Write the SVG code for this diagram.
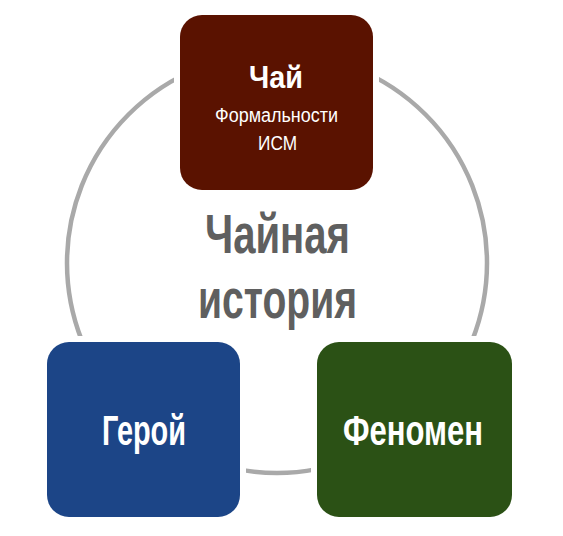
<svg xmlns="http://www.w3.org/2000/svg" width="563" height="536" viewBox="0 0 563 536">
<style>
.box{stroke:#ffffff;stroke-width:12;paint-order:stroke}
.t{font-family:"Liberation Sans Narrow","Liberation Sans",Arial,sans-serif;fill:#ffffff;text-anchor:middle}
.b{font-weight:bold}
.c{font-family:"Liberation Sans Narrow","Liberation Sans",Arial,sans-serif;fill:#5f5f5f;font-weight:bold;text-anchor:middle}
</style>
<rect width="563" height="536" fill="#ffffff"/>
<g id="connectors">
<circle cx="277" cy="263" r="210" fill="none" stroke="#a9a9a9" stroke-width="4.5"/>
</g>
<g id="center">
<text class="c" x="277.5" y="253" font-size="56" textLength="145" lengthAdjust="spacingAndGlyphs">Чайная</text>
<text class="c" x="277.5" y="318" font-size="56" textLength="159" lengthAdjust="spacingAndGlyphs">история</text>
</g>
<g id="node-tea">
<rect class="box" x="180" y="15" width="193" height="175" rx="22" fill="#5a1200"/>
<text class="t b" x="276" y="88" font-size="32" textLength="54" lengthAdjust="spacingAndGlyphs">Чай</text>
<text class="t" x="276.5" y="122" font-size="19.5" textLength="123" lengthAdjust="spacingAndGlyphs">Формальности</text>
<text class="t" x="277.5" y="150" font-size="19.5" textLength="39" lengthAdjust="spacingAndGlyphs">ИСМ</text>
</g>
<g id="node-hero">
<rect class="box" x="47" y="342" width="193" height="175" rx="22" fill="#1c4587"/>
<text class="t b" x="144" y="445" font-size="42" textLength="84" lengthAdjust="spacingAndGlyphs">Герой</text>
</g>
<g id="node-phenomenon">
<rect class="box" x="317" y="342" width="195" height="175" rx="22" fill="#2b5115"/>
<text class="t b" x="413" y="445" font-size="42" textLength="140" lengthAdjust="spacingAndGlyphs">Феномен</text>
</g>
</svg>
